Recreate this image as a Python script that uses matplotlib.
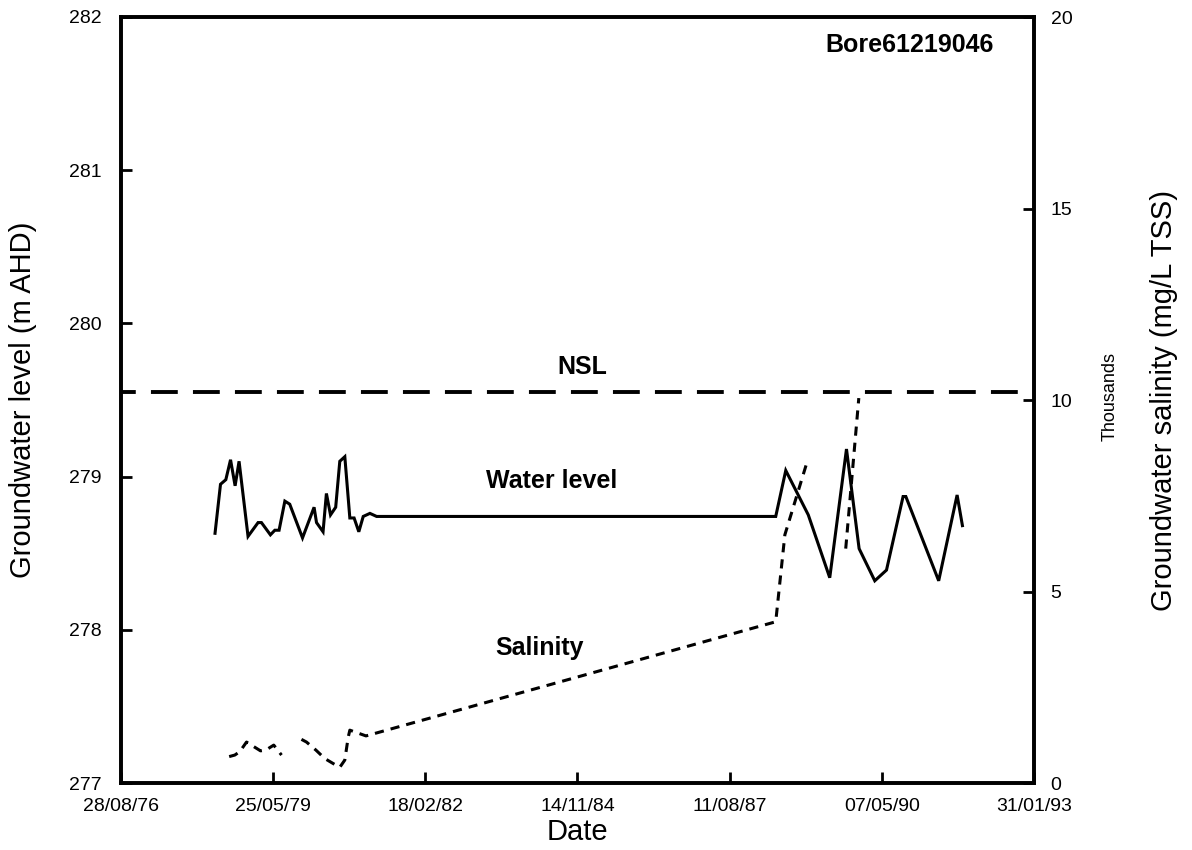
import matplotlib
matplotlib.use("Agg")
import matplotlib.pyplot as plt
import numpy as np
import pandas as pd

plt.rcParams['font.family'] = ['Liberation Sans', 'DejaVu Sans']

# Water level readings (m AHD)
level_dates = ['1978-05-08', '1978-06-13', '1978-07-18', '1978-08-18', '1978-09-17',
               '1978-10-13', '1978-12-11', '1979-02-15', '1979-03-09', '1979-05-07',
               '1979-06-05', '1979-07-03', '1979-08-10', '1979-09-11', '1979-12-04',
               '1980-02-18', '1980-03-05', '1980-04-17', '1980-05-09', '1980-06-05',
               '1980-07-09', '1980-08-05', '1980-09-07', '1980-10-10', '1980-11-07',
               '1980-12-08', '1981-01-06', '1981-02-19', '1981-04-04', '1988-06-09',
               '1988-08-14', '1989-01-09', '1989-05-30', '1989-09-17', '1989-12-09',
               '1990-03-22', '1990-06-07', '1990-09-24', '1990-10-12', '1991-05-16',
               '1991-09-14', '1991-10-19']
level_m = [278.63, 278.95, 278.98, 279.11, 278.94,
           279.10, 278.61, 278.70, 278.70, 278.62,
           278.65, 278.65, 278.84, 278.82, 278.60,
           278.80, 278.70, 278.64, 278.89, 278.75,
           278.80, 279.10, 279.13, 278.73, 278.73,
           278.64, 278.74, 278.76, 278.74, 278.74,
           279.04, 278.75, 278.34, 279.18, 278.53,
           278.32, 278.39, 278.87, 278.87, 278.32,
           278.88, 278.68]

# Salinity readings (mg/L TSS), NaN marks a break in the record
salinity_dates = ['1978-08-09', '1978-09-15', '1978-10-18', '1978-12-01', '1979-03-03',
                  '1979-04-07', '1979-05-29', '1979-07-19', '1979-09-01', '1979-11-27',
                  '1979-12-30', '1980-03-01', '1980-04-28', '1980-06-22', '1980-08-05',
                  '1980-09-07', '1980-09-29', '1980-10-10', '1981-01-24', '1988-06-09',
                  '1988-08-08', '1988-12-28', '1989-04-01', '1989-09-12', '1989-12-07']
salinity_mgL = [690, 730, 820, 1070, 840,
                860, 990, 730, np.nan, 1140,
                1070, 860, 640, 510, 410,
                600, 1190, 1380, 1230, 4210,
                6480, 8330, np.nan, 6120, 10050]

nsl_level = 279.55

x_tick_dates = ['1976-08-28', '1979-05-25', '1982-02-18', '1984-11-14',
                '1987-08-11', '1990-05-07', '1993-01-31']
x_tick_labels = ['28/08/76', '25/05/79', '18/02/82', '14/11/84',
                 '11/08/87', '07/05/90', '31/01/93']
level_ticks = [277, 278, 279, 280, 281, 282]
salinity_ticks = [0, 5000, 10000, 15000, 20000]
salinity_tick_labels = ['0', '5', '10', '15', '20']

level_dates = pd.to_datetime(level_dates)
salinity_dates = pd.to_datetime(salinity_dates)
x_tick_dates = pd.to_datetime(x_tick_dates)

fig = plt.figure(figsize=(11.92, 8.5), dpi=100)
ax = fig.add_axes([0.1015, 0.0788, 0.7659, 0.9012])
ax2 = ax.twinx()

ax.plot(level_dates, level_m, color='black', linewidth=2.2, solid_joinstyle='miter')
ax.axhline(nsl_level, color='black', linewidth=2.8, linestyle=(3.1, (6.9, 3.9)))
ax2.plot(salinity_dates, salinity_mgL, color='black', linewidth=2.2,
         linestyle=(0, (3.0, 2.3)))

ax.set_xlim(x_tick_dates[0], x_tick_dates[-1])
ax.set_ylim(277, 282)
ax2.set_ylim(0, 20000)

ax.set_xticks(x_tick_dates)
ax.set_xticklabels(x_tick_labels)
ax.set_yticks(level_ticks)
ax2.set_yticks(salinity_ticks)
ax2.set_yticklabels(salinity_tick_labels)

for a in (ax, ax2):
    a.tick_params(direction='in', length=8, width=2, labelsize=14)
    for s in a.spines.values():
        s.set_linewidth(2.6)
ax.tick_params(axis='x', pad=11)
ax.tick_params(axis='y', pad=14)
ax2.tick_params(axis='y', pad=12)

ax.set_xlabel('Date', fontsize=21, labelpad=2)
ax.set_ylabel('Groundwater level (m AHD)', fontsize=21, labelpad=23)
ax2.set_ylabel('Groundwater salinity (mg/L TSS)', fontsize=21, labelpad=56)
ax2.text(1.083, 0.505, 'Thousands', transform=ax2.transAxes, rotation=90,
         fontsize=13, ha='center', va='center')

# series labels
ax.text(0.864, 0.964, 'Bore61219046', transform=ax.transAxes, fontsize=18,
        fontweight='bold', ha='center', va='center')
ax.text(0.505, 0.543, 'NSL', transform=ax.transAxes, fontsize=18,
        fontweight='bold', ha='center', va='center')
ax.text(0.472, 0.394, 'Water level', transform=ax.transAxes, fontsize=18,
        fontweight='bold', ha='center', va='center')
ax.text(0.458, 0.176, 'Salinity', transform=ax.transAxes, fontsize=18,
        fontweight='bold', ha='center', va='center')

fig.savefig('out.png', dpi=100)
